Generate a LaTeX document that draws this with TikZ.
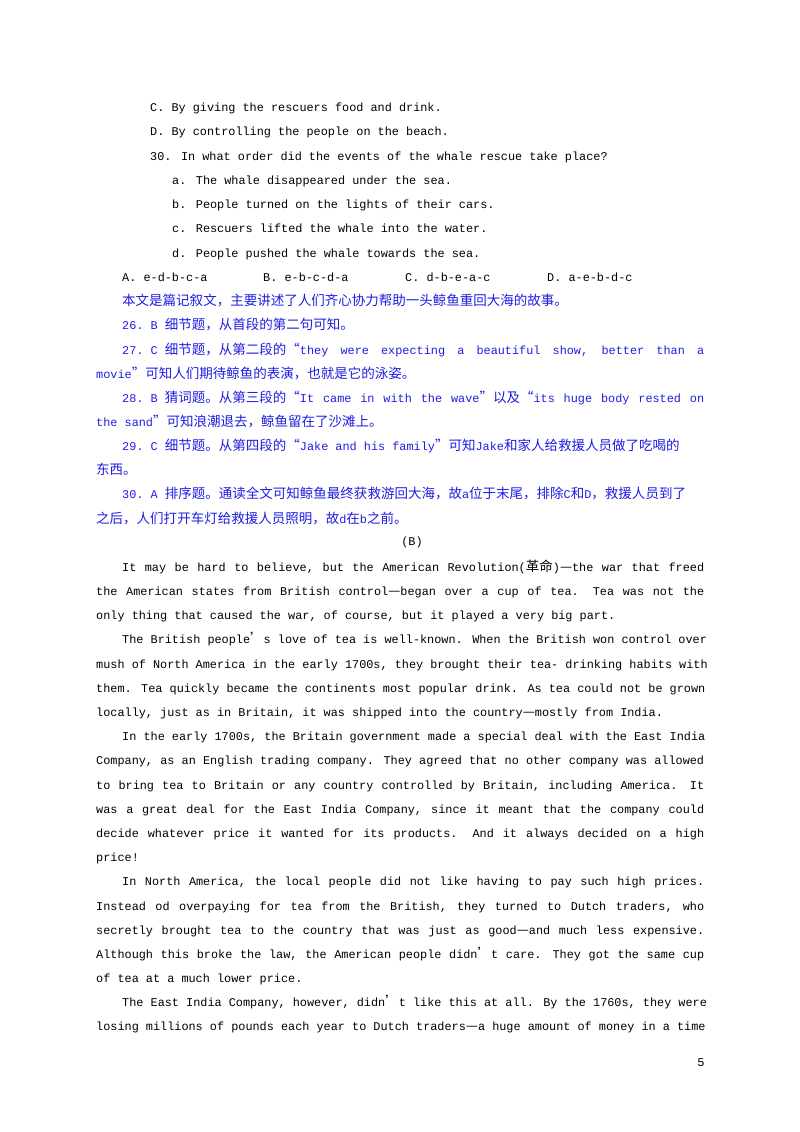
\documentclass[tikz,border=0pt]{standalone}
\usepackage{fontspec}
\setmainfont{Liberation Mono}
\newfontfamily\cjk{Noto Sans CJK SC}[Scale=1.14]
\definecolor{ansblue}{RGB}{30,30,225}
\newcommand\dd{{\cjk —}}
\newcommand\fs{\hspace{0.6em}}
\newcommand\myl[3]{\node[anchor=base west,inner sep=0pt] at (#2,-#1-5) {#3};}
\newcommand\myj[4]{\node[anchor=base west,inner sep=0pt] at (#2,-#1-5) {\hbox to #3pt{\spaceskip=0.6em plus 1fil\relax #4}};}
\begin{document}
\begin{tikzpicture}[x=1pt,y=1pt,font=\fontsize{11.85}{14}\selectfont]
\useasboundingbox[fill=white] (0,0) rectangle (800,-1132);
\myl{106}{150}{C. By giving the rescuers food and drink.}
\myl{130}{150}{D. By controlling the people on the beach.}
\myl{155}{150}{30. In what order did the events of the whale rescue take place?}
\myl{179}{172}{a. The whale disappeared under the sea.}
\myl{203}{172}{b. People turned on the lights of their cars.}
\myl{227}{172}{c. Rescuers lifted the whale into the water.}
\myl{252}{172}{d. People pushed the whale towards the sea.}
\myl{276}{122}{A. e-d-b-c-a}
\myl{276}{263}{B. e-b-c-d-a}
\myl{276}{405}{C. d-b-e-a-c}
\myl{276}{547}{D. a-e-b-d-c}
\begin{scope}[ansblue]
\myl{300}{122}{\color{ansblue}\cjk 本文是篇记叙文，主要讲述了人们齐心协力帮助一头鲸鱼重回大海的故事。}
\myl{324}{122}{\color{ansblue}26.\fs B\fs{\cjk 细节题，从首段的第二句可知。}}
\myj{349}{122}{582}{\color{ansblue}27.\fs C\fs{\cjk 细节题，从第二段的“}they were expecting a beautiful show, better than a}
\myl{373}{96}{\color{ansblue}movie{\cjk ”可知人们期待鲸鱼的表演，也就是它的泳姿。}}
\myj{397}{122}{582}{\color{ansblue}28.\fs B\fs{\cjk 猜词题。从第三段的“}It came in with the wave{\cjk ”以及“}its huge body rested on}
\myl{421}{96}{\color{ansblue}the sand{\cjk ”可知浪潮退去，鲸鱼留在了沙滩上。}}
\myj{445}{122}{582}{\color{ansblue}29.\fs C\fs{\cjk 细节题。从第四段的“}Jake\fs and\fs his\fs family{\cjk ”可知}Jake{\cjk 和家人给救援人员做了吃喝的}}
\myl{469}{96}{\color{ansblue}\cjk 东西。}
\myj{493}{122}{582}{\color{ansblue}30.\fs A\fs{\cjk 排序题。通读全文可知鲸鱼最终获救游回大海，故}a{\cjk 位于末尾，排除}C{\cjk 和}D{\cjk ，救援人员到了}}
\myl{518}{96}{\color{ansblue}{\cjk 之后，人们打开车灯给救援人员照明，故}d{\cjk 在}b{\cjk 之前。}}
\end{scope}
\node[inner sep=0pt] (B) at (412,-542) {(B)};
\myj{566}{122}{582}{It may be hard to believe, but the American Revolution({\cjk 革命})\dd the war that freed}
\myj{590}{96}{608}{the American states from British control\dd began over a cup of tea. Tea was not the}
\myl{614}{96}{only thing that caused the war, of course, but it played a very big part.}
\myj{638}{122}{582}{The British people{\cjk ’}s love of tea is well-known. When the British won control over}
\myj{663}{96}{608}{mush of North America in the early 1700s, they brought their tea- drinking habits with}
\myj{687}{96}{608}{them. Tea quickly became the continents most popular drink. As tea could not be grown}
\myl{711}{96}{locally, just as in Britain, it was shipped into the country\dd mostly from India.}
\myj{735}{122}{582}{In the early 1700s, the Britain government made a special deal with the East India}
\myj{759}{96}{608}{Company, as an English trading company. They agreed that no other company was allowed}
\myj{784}{96}{608}{to bring tea to Britain or any country controlled by Britain, including America. It}
\myj{808}{96}{608}{was a great deal for the East India Company, since it meant that the company could}
\myj{832}{96}{608}{decide whatever price it wanted for its products. And it always decided on a high}
\myl{856}{96}{price!}
\myj{880}{122}{582}{In North America, the local people did not like having to pay such high prices.}
\myj{905}{96}{608}{Instead od overpaying for tea from the British, they turned to Dutch traders, who}
\myj{929}{96}{608}{secretly brought tea to the country that was just as good\dd and much less expensive.}
\myj{953}{96}{608}{Although this broke the law, the American people didn{\cjk ’}t care. They got the same cup}
\myl{977}{96}{of tea at a much lower price.}
\myj{1001}{122}{582}{The East India Company, however, didn{\cjk ’}t like this at all. By the 1760s, they were}
\myj{1025}{96}{608}{losing millions of pounds each year to Dutch traders\dd a huge amount of money in a time}
\node[inner sep=0pt,font=\fontsize{12}{14}\selectfont\rmfamily] (pg) at (701,-1063) {5};
\end{tikzpicture}
\end{document}
